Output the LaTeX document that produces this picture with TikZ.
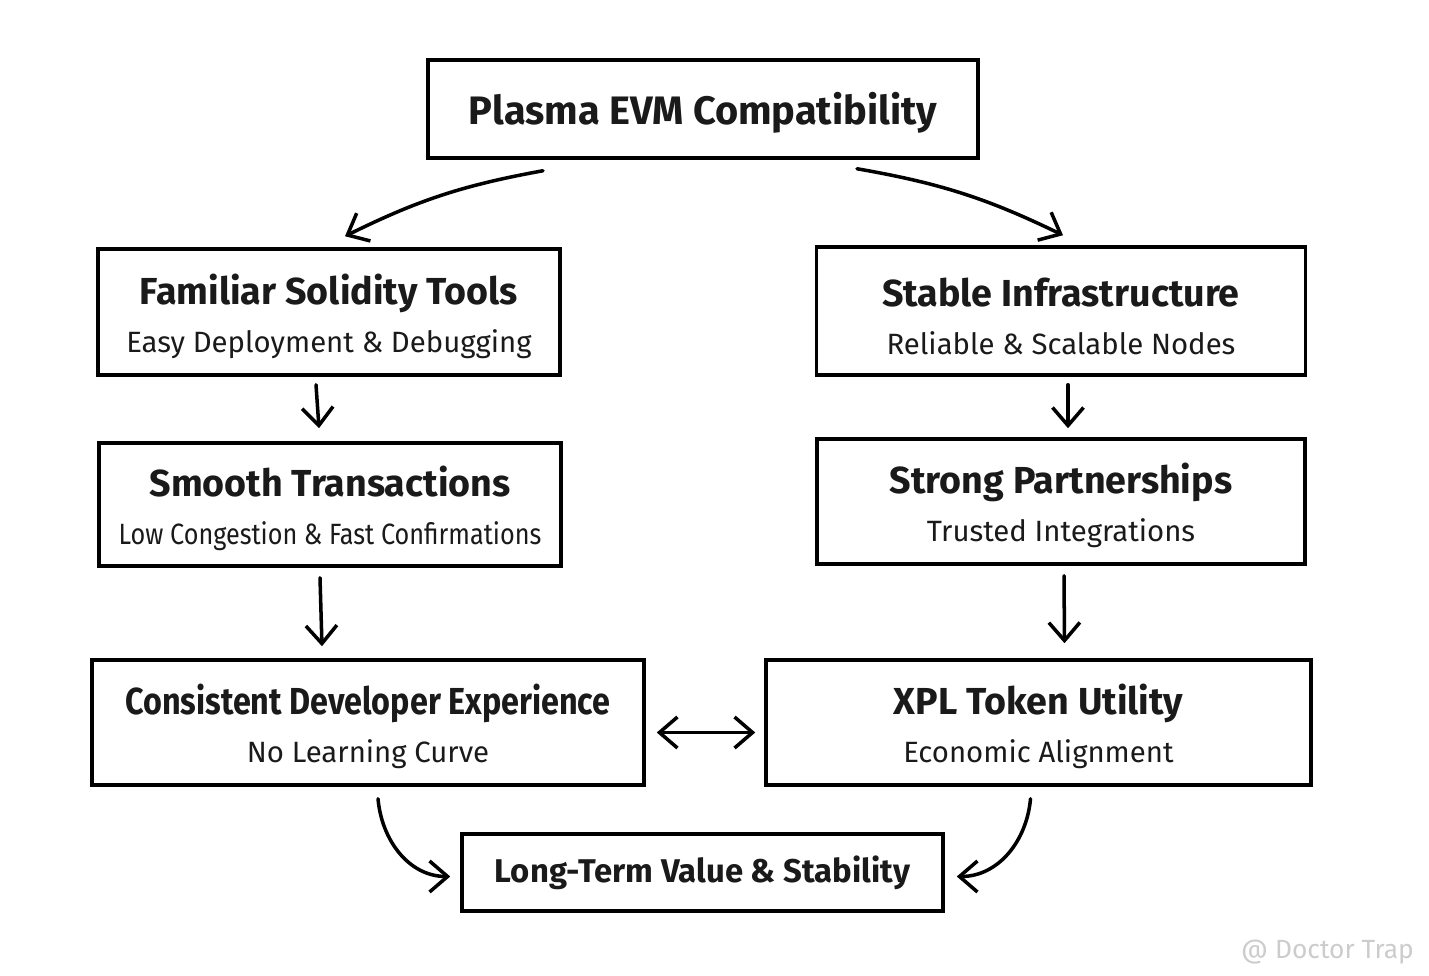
\documentclass[tikz,border=0pt]{standalone}
\usepackage{fontspec}
\setmainfont{Fira Sans}
\newfontfamily\narrowfont{Fira Sans}[FakeStretch=0.86]
\usetikzlibrary{arrows.meta}
\definecolor{ink}{HTML}{1A1A1A}
\newcommand{\boxtxt}[2]{{\fontsize{21.4}{27.3}\selectfont\bfseries\rule{0pt}{22pt}#1}\\{\fontsize{16.7}{27.3}\selectfont #2}}

\begin{document}
\begin{tikzpicture}[
    card/.style={draw=black, line width=2pt, fill=white, text=ink, align=center, inner sep=0pt, font=\fontsize{16.7}{27.3}\selectfont},
    flow/.style={line width=2pt, line cap=round},
    >={Straight Barb[length=0.36cm, width=0.62cm, line width=2pt]},
    ]
    \useasboundingbox[fill=white] (0,0) rectangle (28.58,-19.52);

    \node[card, minimum width=11cm, minimum height=1.96cm, font=\fontsize{22.6}{30}\selectfont\bfseries] (plasma) at (14.06,-2.18) {\rule{0pt}{23pt}Plasma EVM Compatibility};

    \node[card, minimum width=9.24cm, minimum height=2.52cm] (tools) at (6.58,-6.24) {\boxtxt{Familiar Solidity Tools}{Easy Deployment \& Debugging}};
    \node[card, minimum width=9.78cm, minimum height=2.56cm] (infra) at (21.22,-6.22) {\boxtxt{Stable Infrastructure}{Reliable \& Scalable Nodes}};

    \node[card, minimum width=9.24cm, minimum height=2.46cm] (smooth) at (6.6,-10.09) {\boxtxt{Smooth Transactions}{\narrowfont Low Congestion \& Fast Confirmations}};
    \node[card, minimum width=9.76cm, minimum height=2.5cm] (partners) at (21.22,-10.03) {\boxtxt{Strong Partnerships}{Trusted Integrations}};

    \node[card, minimum width=11.04cm, minimum height=2.5cm] (devexp) at (7.36,-14.45) {\boxtxt{\narrowfont Consistent Developer Experience}{No Learning Curve}};
    \node[card, minimum width=10.9cm, minimum height=2.5cm] (xpl) at (20.77,-14.45) {\boxtxt{XPL Token Utility}{Economic Alignment}};

    \node[card, minimum width=9.62cm, minimum height=1.54cm, font=\fontsize{18.7}{25}\selectfont\bfseries] (value) at (14.05,-17.45) {Long-Term Value \& Stability};

    \draw[flow, ->] ([xshift=-3.2cm, yshift=-0.22cm]plasma.south) to[bend right=8] ([xshift=0.32cm, yshift=0.22cm]tools.north);
    \draw[flow, ->] ([xshift=3.08cm, yshift=-0.18cm]plasma.south) to[bend left=8] ([xshift=0.04cm, yshift=0.2cm]infra.north);

    \draw[flow, ->] ([xshift=-0.26cm, yshift=-0.16cm]tools.south) -- ([xshift=-0.22cm, yshift=0.26cm]smooth.north);
    \draw[flow, ->] ([xshift=0.14cm, yshift=-0.16cm]infra.south) -- ([xshift=0.14cm, yshift=0.18cm]partners.north);

    \draw[flow, ->] ([xshift=-0.2cm, yshift=-0.2cm]smooth.south) -- ([xshift=-0.92cm, yshift=0.24cm]devexp.north);
    \draw[flow, ->] ([xshift=0.06cm, yshift=-0.2cm]partners.south) -- ([xshift=0.52cm, yshift=0.3cm]xpl.north);

    \draw[flow, <->] ([xshift=0.22cm, yshift=-0.2cm]devexp.east) -- ([xshift=-0.18cm, yshift=-0.2cm]xpl.west);

    \draw[flow, ->] ([xshift=0.2cm, yshift=-0.24cm]devexp.south) to[out=-85, in=180] ([xshift=-0.2cm, yshift=-0.08cm]value.west);
    \draw[flow, ->] ([xshift=-0.16cm, yshift=-0.24cm]xpl.south) to[out=-95, in=0] ([xshift=0.24cm, yshift=-0.08cm]value.east);

    \node[text=black!20, font=\fontsize{15}{18}\selectfont, anchor=east] (mark) at (28.4,-19.04) {@ Doctor Trap};
\end{tikzpicture}
\end{document}
